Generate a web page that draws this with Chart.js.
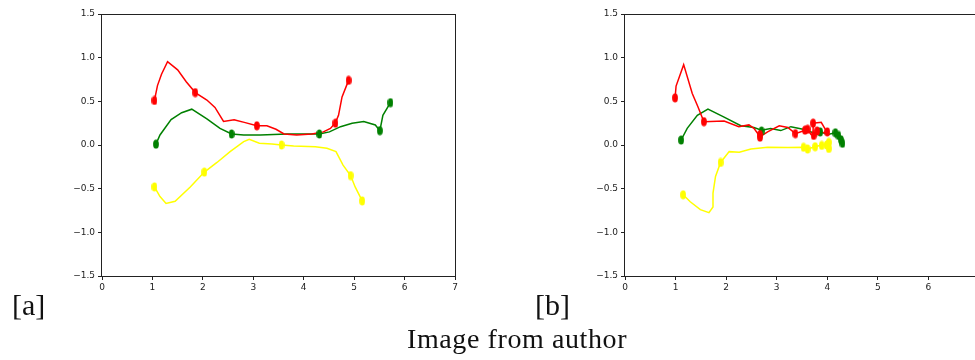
<!DOCTYPE html>
<html lang="en">
<head>
<meta charset="UTF-8">
<title>Image from author</title>
<script src="https://cdn.jsdelivr.net/npm/chart.js"></script>
<style>
  html, body { margin: 0; padding: 0; background: #fff; width: 975px; height: 360px; overflow: hidden; }
  .plot { position: absolute; top: 0; }
  .tag { position: absolute; font-family: 'Liberation Serif', 'Times New Roman', serif; color: #111; line-height: 1; white-space: nowrap; }
</style>
</head>
<body>
<canvas id="chartA" class="plot" width="480" height="300" style="left:0"></canvas>
<canvas id="chartB" class="plot" width="480" height="300" style="left:520px"></canvas>
<div class="tag" style="left:12px; top:290px; font-size:30px">[a]</div>
<div class="tag" style="left:535px; top:290px; font-size:30px">[b]</div>
<div class="tag" style="left:407px; top:325px; font-size:28px; letter-spacing:0.6px">Image from author</div>

<script>
// axis ticks
const xTicks = [0, 1, 2, 3, 4, 5, 6, 7];
const yTicks = [-1.5, -1.0, -0.5, 0.0, 0.5, 1.0, 1.5];
const yTickLabels = ['\u22121.5', '\u22121.0', '\u22120.5', '0.0', '0.5', '1.0', '1.5'];

// [a] traces
const aRed = [[1.04,0.51],[1.10,0.68],[1.18,0.81],[1.30,0.955],[1.50,0.86],[1.67,0.725],[1.85,0.60],[2.08,0.515],
  [2.24,0.43],[2.41,0.27],[2.62,0.29],[2.84,0.256],[3.07,0.22],[3.27,0.22],[3.45,0.18],[3.61,0.126],[3.86,0.115],
  [4.16,0.126],[4.39,0.15],[4.53,0.19],[4.63,0.256],[4.69,0.34],[4.76,0.55],[4.89,0.74]];
const aRedDots = [[1.04,0.51],[1.85,0.60],[3.07,0.22],[4.63,0.25],[4.89,0.74]];
const aGreen = [[1.07,0.01],[1.15,0.115],[1.37,0.29],[1.58,0.37],[1.78,0.41],[2.08,0.30],[2.34,0.19],[2.57,0.126],
  [2.81,0.115],[3.14,0.115],[3.67,0.126],[4.06,0.126],[4.31,0.126],[4.51,0.15],[4.73,0.21],[4.96,0.25],[5.19,0.27],
  [5.42,0.23],[5.51,0.164],[5.57,0.34],[5.72,0.485]];
const aGreenDots = [[1.07,0.01],[2.57,0.126],[4.31,0.126],[5.51,0.164],[5.72,0.485]];
const aYellow = [[1.04,-0.48],[1.15,-0.59],[1.27,-0.67],[1.45,-0.645],[1.75,-0.48],[2.03,-0.31],[2.28,-0.20],
  [2.54,-0.076],[2.81,0.038],[2.92,0.065],[3.12,0.02],[3.37,0.011],[3.56,0.0],[3.80,-0.011],[4.23,-0.019],
  [4.46,-0.038],[4.64,-0.076],[4.78,-0.23],[4.93,-0.35],[5.02,-0.48],[5.16,-0.64]];
const aYellowDots = [[1.04,-0.48],[2.03,-0.31],[3.56,0.0],[4.93,-0.35],[5.16,-0.64]];

// [b] traces
const bRed = [[0.99,0.54],[1.01,0.675],[1.16,0.92],[1.33,0.59],[1.44,0.44],[1.56,0.267],[1.96,0.275],[2.25,0.21],
  [2.45,0.23],[2.55,0.19],[2.67,0.095],[2.82,0.15],[3.05,0.22],[3.22,0.20],[3.37,0.13],[3.52,0.16],[3.61,0.18],
  [3.68,0.12],[3.73,0.11],[3.72,0.25],[3.88,0.26],[3.95,0.19],[4.00,0.15],[3.90,0.14],[3.80,0.16]];
const bRedDots = [[0.99,0.54],[1.56,0.267],[2.67,0.12],[2.67,0.09],[3.37,0.13],[3.56,0.17],[3.61,0.18],[3.72,0.25],
  [3.73,0.11],[3.80,0.16],[4.00,0.15]];
const bGreen = [[1.11,0.057],[1.23,0.19],[1.43,0.34],[1.64,0.41],[1.96,0.32],[2.29,0.22],[2.55,0.20],[2.70,0.17],
  [2.88,0.19],[3.08,0.165],[3.28,0.21],[3.52,0.18],[3.75,0.134],[3.86,0.15],[4.01,0.12],[4.16,0.14],[4.24,0.115],
  [4.27,0.06],[4.30,0.01]];
const bGreenDots = [[1.11,0.057],[2.70,0.16],[3.86,0.15],[4.16,0.14],[4.22,0.11],[4.27,0.06],[4.30,0.02]];
const bYellow = [[1.15,-0.57],[1.29,-0.65],[1.49,-0.74],[1.66,-0.775],[1.74,-0.71],[1.74,-0.55],[1.79,-0.36],
  [1.89,-0.20],[2.06,-0.076],[2.26,-0.084],[2.49,-0.046],[2.82,-0.027],[3.22,-0.03],[3.53,-0.026],[3.61,-0.046],
  [3.76,-0.02],[3.89,0.0],[3.99,0.01],[4.03,0.03],[4.03,-0.04]];
const bYellowDots = [[1.15,-0.57],[1.89,-0.20],[3.53,-0.026],[3.61,-0.046],[3.76,-0.02],[3.89,-0.005],[3.99,0.0],
  [4.03,0.03],[4.03,-0.04]];

const RED = '#ff0000', GREEN = '#008000', YELLOW = '#ffff00';

// squashed round marker, as in the picture
function dot(color) {
  const c = document.createElement('canvas');
  c.width = 6; c.height = 10;
  const g = c.getContext('2d');
  g.fillStyle = color;
  g.beginPath();
  g.ellipse(3, 5, 2.9, 4.6, 0, 0, Math.PI * 2);
  g.fill();
  return c;
}

const xy = arr => arr.map(p => ({ x: p[0], y: p[1] }));

function lineSet(arr, color) {
  return { data: xy(arr), showLine: true, borderColor: color, borderWidth: 1.5, pointRadius: 0, tension: 0 };
}
function dotSet(arr, color) {
  return { data: xy(arr), showLine: false, pointStyle: dot(color), pointRadius: 4, backgroundColor: color, borderWidth: 0 };
}

const frame = {
  id: 'frame',
  afterDraw(chart) {
    const { ctx, chartArea: a } = chart;
    ctx.save();
    ctx.strokeStyle = '#222';
    ctx.lineWidth = 1;
    ctx.strokeRect(a.left - 0.5, a.top + 0.5, a.right - a.left + 1, a.bottom - a.top);
    ctx.restore();
  }
};

const tickFont = { family: 'DejaVu Sans', size: 9 };

function makeChart(id, padLeft, padRight, sets) {
  new Chart(document.getElementById(id), {
    type: 'scatter',
    data: { datasets: sets },
    options: {
      responsive: false,
      animation: false,
      events: [],
      layout: { padding: { left: padLeft, right: padRight, top: 14, bottom: 4 } },
      plugins: { legend: { display: false }, tooltip: { enabled: false } },
      scales: {
        x: {
          type: 'linear', min: 0, max: 7,
          afterBuildTicks: s => { s.ticks = xTicks.map(v => ({ value: v })); },
          afterFit: s => { s.height = 20; },
          ticks: { font: tickFont, color: '#222', padding: 2, maxRotation: 0, callback: v => String(v) },
          grid: { drawOnChartArea: false, drawTicks: true, tickLength: 4, color: '#222' },
          border: { display: false }
        },
        y: {
          type: 'linear', min: -1.5, max: 1.5,
          afterBuildTicks: s => { s.ticks = yTicks.map(v => ({ value: v })); },
          afterFit: s => { s.width = 42; },
          ticks: { font: tickFont, color: '#222', padding: 3, callback: (v, i) => yTickLabels[i] },
          grid: { drawOnChartArea: false, drawTicks: true, tickLength: 4, color: '#222' },
          border: { display: false }
        }
      }
    },
    plugins: [frame]
  });
}

makeChart('chartA', 60, 25, [
  dotSet(aRedDots, RED), dotSet(aGreenDots, GREEN), dotSet(aYellowDots, YELLOW),
  lineSet(aRed, RED), lineSet(aGreen, GREEN), lineSet(aYellow, YELLOW)
]);
makeChart('chartB', 63, 21, [
  dotSet(bRedDots, RED), dotSet(bGreenDots, GREEN), dotSet(bYellowDots, YELLOW),
  lineSet(bRed, RED), lineSet(bGreen, GREEN), lineSet(bYellow, YELLOW)
]);
</script>
</body>
</html>
